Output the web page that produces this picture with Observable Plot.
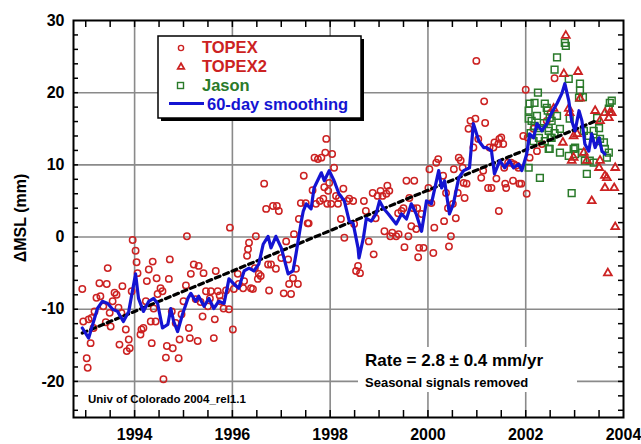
<!DOCTYPE html>
<html><head><meta charset="utf-8">
<script src="https://cdn.jsdelivr.net/npm/d3@7"></script>
<script src="https://cdn.jsdelivr.net/npm/@observablehq/plot@0.6"></script>
<style>body{margin:0;background:#fff}#chart{width:641px;height:444px}</style>
</head><body><div id="chart"></div>
<script>
// ---- TOPEX (10-day cycles) ----
const topexYear = [
1992.93,1992.95,1993.02,1993.04,1993.06,1993.10,1993.12,1993.16,1993.18,1993.22,
1993.28,1993.30,1993.36,1993.41,1993.43,1993.45,1993.49,1993.51,1993.55,1993.59,
1993.63,1993.67,1993.69,1993.73,1993.75,1993.82,1993.84,1993.88,1993.90,1993.94,
1993.96,1994.02,1994.04,1994.06,1994.12,1994.14,1994.18,1994.23,1994.25,1994.29,
1994.33,1994.35,1994.37,1994.39,1994.43,1994.45,1994.47,
1994.53,1994.57,1994.59,1994.64,1994.66,1994.70,1994.72,1994.76,1994.78,1994.84,
1994.90,1994.92,1994.96,1995.00,1995.05,1995.07,1995.11,1995.13,1995.15,1995.21,
1995.25,1995.29,1995.31,1995.35,1995.39,1995.41,1995.46,1995.50,1995.54,1995.56,
1995.62,1995.64,1995.66,1995.70,1995.74,1995.76,1995.82,1995.87,1995.93,1995.95,1996.01,
1996.03,1996.11,1996.13,1996.22,1996.24,1996.30,1996.32,1996.34,1996.38,1996.42,
1996.46,1996.48,1996.52,1996.54,1996.58,1996.65,1996.69,1996.73,1996.75,1996.79,
1996.83,1996.89,1996.91,1996.95,1997.00,1997.05,1997.10,1997.14,1997.16,1997.20,
1997.24,1997.26,1997.30,1997.34,1997.36,1997.40,1997.46,1997.50,1997.54,1997.56,
1997.64,1997.68,
1997.71,1997.75,1997.79,1997.82,1997.86,1997.88,1997.90,1997.92,1997.94,1997.96,
1997.98,1998.02,1998.04,1998.08,1998.12,1998.16,1998.18,1998.22,1998.27,1998.29,
1998.35,1998.39,1998.47,1998.49,1998.53,1998.57,1998.61,1998.69,1998.73,1998.79,
1998.87,1998.89,1998.93,1998.97,1999.03,1999.07,1999.11,1999.15,1999.17,1999.21,
1999.23,1999.27,
1999.35,1999.39,1999.40,1999.46,1999.50,1999.52,1999.56,1999.60,1999.62,1999.66,
1999.70,1999.72,1999.76,1999.78,1999.80,1999.82,1999.87,1999.91,2000.01,2000.03,
2000.07,2000.11,2000.13,2000.17,2000.21,2000.31,2000.33,2000.37,2000.41,2000.43,
2000.47,2000.51,2000.53,2000.57,2000.61,2000.63,2000.67,2000.71,2000.73,2000.75,
2000.79,2000.83,2000.87,
2000.93,2000.97,2000.99,2001.03,2001.09,2001.13,2001.15,2001.17,2001.23,2001.26,
2001.30,2001.34,2001.36,2001.40,2001.44,2001.45,2001.46,2001.50,2001.54,2001.56,
2001.58,2001.60,2001.64,2001.70,2001.74,2001.76,2001.81,2001.85,2001.87,2001.91,
2001.95,2002.00,2002.02,2002.04,2002.08,2002.16,2002.23,2002.33,2002.43,2002.51,2002.59
];
const topexMSL = [
-7.2,-11.7,-16.8,-18.1,-11.4,-14.7,-11.2,-12.6,-10.3,-8.4,
-6.4,-8.2,-9.6,-11.8,-6.5,-4.3,-10.5,-12.4,-8.9,-7.7,
-8.0,-9.8,-14.9,-10.5,-6.8,-12.8,-15.8,-14.2,-15.4,-7.5,
-0.4,-1.9,-3.5,-5.0,-13.5,-12.8,-12.6,-8.9,-6.1,-4.5,
-11.7,-14.7,-3.4,-9.9,-11.7,-5.7,-7.9,
-7.1,-7.5,-19.7,-16.7,-15.1,-5.8,-3.1,-10.3,-15.4,-11.9,
-16.8,-14.2,-10.7,-8.9,-6.7,0.1,-12.6,-14.0,-5.1,-3.8,
-8.6,-14.4,-4.0,-9.0,-11.0,-5.0,-7.5,-9.6,-8.5,-7.5,
-14.0,-11.4,-4.7,-7.5,-8.1,-8.9,-9.9,-7.4,-10.0,1.3,-12.8,
-7.2,-5.1,-6.5,-7.1,-6.1,-2.6,-1.7,-0.8,-7.1,-7.2,
-4.3,0.1,-5.8,-5.1,-5.4,7.4,3.9,-3.8,-7.4,-3.8,
4.3,-4.4,4.3,3.6,-2.9,-7.8,-0.6,-3.1,-6.5,-7.9,
-5.7,0.4,-4.4,-6.5,2.5,4.7,8.5,4.7,1.9,1.9,
6.5,11.0,
4.6,10.8,5.0,11.0,5.3,6.9,11.7,13.6,4.6,6.4,
7.5,4.6,11.5,9.6,5.7,4.6,5.4,2.5,6.7,-0.1,
5.0,5.3,5.0,1.8,-4.7,-4.0,-5.0,5.0,3.6,-0.6,
6.1,-2.4,2.6,5.7,6.4,5.7,0.8,6.0,7.1,6.4,
0.1,0.6,
0.1,3.3,0.4,3.6,4.0,-1.4,7.8,0.1,5.4,1.5,
4.0,7.8,1.1,4.0,-2.8,-1.5,3.2,-1.5,6.8,9.4,
4.7,-2.2,1.3,10.3,10.8,8.5,2.2,6.1,4.0,-1.3,
0.1,4.6,9.4,2.6,6.1,11.0,10.6,9.6,7.5,5.4,
7.4,15.0,16.1,
12.4,16.4,24.4,13.6,8.2,9.2,18.8,15.8,6.8,12.4,
6.8,12.4,13.1,8.1,12.9,3.6,13.6,13.8,12.9,9.6,
7.4,6.8,10.3,10.3,7.8,10.1,9.9,9.6,7.4,7.4,
14.0,20.4,6.0,13.8,11.0,15.0,11.9,12.9,16.1,17.2,22.0
];
// ---- TOPEX2 (tandem) ----
const topex2Year = [2002.57,2002.76,2002.78,2002.82,2002.88,2002.90,2002.94,2002.98,2002.98,2003.05,
2003.07,2003.11,2003.19,2003.25,2003.35,2003.42,2003.50,2003.52,2003.52,2003.62,
2003.62,2003.62,2003.66,2003.68,2003.70,2003.72,2003.76,2003.81,2003.83,2003.83];
const topex2MSL = [17.8,13.1,22.6,27.9,17.8,17.2,10.6,14.0,11.0,14.3,
22.9,19.2,11.7,10.6,5.0,17.5,9.6,16.1,10.6,17.2,
8.5,6.8,8.2,-5.0,16.5,17.2,17.2,6.8,9.6,1.4];
// ---- Jason ----
const jasonYear = [2002.06,2002.06,2002.06,2002.08,2002.10,2002.12,2002.16,2002.18,2002.18,2002.23,
2002.25,2002.27,2002.29,2002.29,2002.37,2002.39,2002.39,2002.43,2002.45,2002.47,
2002.47,2002.47,2002.49,2002.49,2002.51,2002.53,2002.53,2002.59,2002.59,2002.64,
2002.64,2002.70,2002.70,2002.80,2002.82,2002.88,2002.88,2002.90,2002.94,2002.98,
2003.01,2003.01,2003.09,2003.11,2003.11,2003.15,2003.17,2003.19,2003.21,2003.25,
2003.29,2003.31,2003.39,2003.39,2003.46,2003.46,2003.50,2003.52,2003.60,2003.62,
2003.66,2003.70,2003.70,2003.72,2003.76];
const jasonMSL = [9.6,17.5,16.4,18.5,14.4,16.1,13.3,18.6,15.4,16.8,
20.0,13.75,15.1,8.2,15.8,18.5,13.3,17.9,17.5,15.1,
14.7,12.2,16.5,12.2,13.75,16.1,13.75,23.2,14.4,24.9,
16.8,15.0,11.7,26.9,26.5,21.9,11.25,16.4,6.1,12.2,
12.4,11.5,19.3,21.25,20.3,11.7,19.4,14.7,10.6,8.75,
14.0,10.6,14.7,10.3,16.5,13.3,15.1,13.6,13.1,12.2,
11.0,17.8,11.7,18.6,18.9];
// ---- 60-day smoothing ----
const smoothYear = [1992.93,1993.06,1993.24,1993.34,1993.45,1993.55,1993.65,1993.77,1993.88,1994.02,
1994.08,1994.18,1994.29,1994.39,1994.47,1994.57,1994.68,1994.74,1994.80,1994.88,
1994.98,1995.09,1995.15,1995.25,1995.31,1995.42,1995.52,1995.62,1995.72,1995.83,
1995.93,1996.03,1996.13,1996.24,1996.34,1996.44,1996.54,1996.63,1996.73,1996.79,
1996.89,1997.00,1997.14,1997.24,1997.30,1997.41,1997.45,1997.51,1997.61,1997.67,
1997.82,1997.88,1997.98,1998.08,1998.18,1998.29,1998.39,1998.47,1998.57,1998.59,
1998.68,1998.74,1998.84,1998.94,1999.01,1999.09,1999.19,1999.35,1999.46,1999.56,
1999.66,1999.76,1999.87,1999.97,2000.07,2000.22,2000.28,2000.34,2000.44,2000.52,
2000.63,2000.73,2000.85,2000.93,2001.04,2001.14,2001.20,2001.30,2001.36,2001.47,
2001.57,2001.67,2001.75,2001.86,2001.92,2002.02,2002.08,2002.16,2002.23,2002.33,
2002.43,2002.53,2002.64,2002.74,2002.80,2002.88,2002.94,2003.01,2003.09,2003.15,
2003.21,2003.29,2003.35,2003.42,2003.50,2003.56,2003.62];
const smoothMSL = [-12.6,-14.0,-9.9,-8.9,-9.2,-10.0,-10.3,-11.7,-10.3,-5.1,
-8.5,-10.3,-8.9,-8.5,-9.2,-12.6,-12.1,-9.9,-11.7,-13.1,
-10.7,-8.5,-7.8,-8.9,-8.2,-9.6,-8.5,-9.9,-8.9,-9.2,
-5.8,-6.5,-7.1,-4.7,-4.3,-4.7,-3.75,-1.0,0.1,-1.5,
0.1,-1.5,-5.1,-4.7,-2.4,2.2,3.6,4.6,3.9,6.8,
8.9,7.8,9.2,7.8,6.0,5.0,2.2,1.9,-1.5,-2.9,
-0.1,2.6,2.2,3.2,5.0,4.0,3.2,1.8,3.2,2.5,
4.6,3.2,0.8,5.0,4.6,9.2,6.8,7.8,3.2,4.6,
8.2,9.2,9.6,15.7,13.3,12.4,12.4,11.9,8.75,10.6,
9.6,10.6,9.6,10.1,9.2,11.5,14.3,13.75,15.7,14.7,
15.7,17.2,18.5,19.9,21.25,18.9,16.1,14.7,17.5,16.1,
12.9,11.9,14.3,12.4,13.75,11.9,11.5];
// ---- linear trend (2.8 mm/yr) ----
const trendYear = [1992.93, 2003.40];
const trendMSL = [-13.3, 16.0];
// ---- ticks ----
const xLabelTicks = [1994,1996,1998,2000,2002,2004];
const xGridTicks = [1994,1996,1998,2000,2002];
const yLabelTicks = [-20,-10,0,10,20,30];
const yGridTicks = [-20,-10,0,10,20];
const xMinorTicks = [1993,1993.5,1994,1994.5,1995,1995.5,1996,1996.5,1997,1997.5,1998,1998.5,1999,1999.5,2000,2000.5,2001,2001.5,2002,2002.5,2003,2003.5];
const yMinorTicks = [-24,-22,-20,-18,-16,-14,-12,-10,-8,-6,-4,-2,0,2,4,6,8,10,12,14,16,18,20,22,24,26,28];

const zip = (xs, ys) => xs.slice(0, Math.min(xs.length, ys.length)).map((x, i) => ({x, y: ys[i]}));
const topex = zip(topexYear, topexMSL);
const topex2 = zip(topex2Year, topex2MSL);
const jason = zip(jasonYear, jasonMSL);
const smooth = zip(smoothYear, smoothMSL);
const trend = zip(trendYear, trendMSL);

const W = 641, H = 444, mL = 73, mR = 18, mT = 20, mB = 27;
const fw = W - mL - mR, fh = H - mT - mB;
const FONT = "'Liberation Sans', Arial, Helvetica, sans-serif";
const RED = "#cc2222", GREEN = "#2a7a2a", BLUE = "#1414d2";

const chart = Plot.plot({
  width: W, height: H,
  marginLeft: mL, marginRight: mR, marginTop: mT, marginBottom: mB,
  x: {domain: [1992.75, 2004]},
  y: {domain: [-25, 30]},
  style: {fontFamily: FONT, background: "white", color: "black"},
  marks: [
    Plot.ruleX(xGridTicks, {stroke: "#8a8a8a", strokeWidth: 1.6}),
    Plot.ruleY(yGridTicks, {stroke: "#8a8a8a", strokeWidth: 1.6}),
    Plot.tickX(xMinorTicks, {x: d => d, insetTop: fh - 7, stroke: "black", strokeWidth: 1.5}),
    Plot.tickX(xMinorTicks, {x: d => d, insetBottom: fh - 7, stroke: "black", strokeWidth: 1.5}),
    Plot.tickY(yMinorTicks, {y: d => d, insetRight: fw - 5, stroke: "black", strokeWidth: 1.5}),
    Plot.tickY(yMinorTicks, {y: d => d, insetLeft: fw - 5, stroke: "black", strokeWidth: 1.5}),
    Plot.dot(topex, {x: "x", y: "y", r: 3.2, stroke: RED, strokeWidth: 1.5, fill: "none"}),
    Plot.dot(jason, {x: "x", y: "y", symbol: "square", r: 3.8, stroke: GREEN, strokeWidth: 1.5, fill: "none"}),
    Plot.dot(topex2, {x: "x", y: "y", symbol: "triangle", r: 2.9, stroke: RED, strokeWidth: 1.8, fill: "none"}),
    Plot.line(trend, {x: "x", y: "y", stroke: "black", strokeWidth: 3.2, strokeDasharray: "5,4"}),
    Plot.line(smooth, {x: "x", y: "y", stroke: BLUE, strokeWidth: 3.2, strokeLinejoin: "round"}),
    Plot.frame({stroke: "black", strokeWidth: 2}),
    Plot.axisX(xLabelTicks, {tickSize: 0, tickPadding: 11, fontSize: 16, fontWeight: "bold", label: null, tickFormat: d => String(d)}),
    Plot.axisY(yLabelTicks, {tickSize: 0, tickPadding: 9, fontSize: 16, fontWeight: "bold", label: null, tickFormat: d => String(d)})
  ]
});
document.getElementById("chart").appendChild(chart);

// annotations & legend
const svg = d3.select(chart);
const ann = svg.append("g").attr("font-family", FONT).attr("font-weight", "bold").attr("text-anchor", "start");
ann.append("text").attr("transform", "translate(26,218) rotate(-90)").attr("text-anchor", "middle")
  .attr("font-size", 16).attr("fill", "black").text("ΔMSL (mm)");
ann.append("rect").attr("x", 358).attr("y", 347).attr("width", 219).attr("height", 45).attr("fill", "white");
ann.append("text").attr("x", 365).attr("y", 366).attr("font-size", 17).attr("fill", "black").text("Rate = 2.8 ± 0.4 mm/yr");
ann.append("text").attr("x", 365).attr("y", 387).attr("font-size", 13).attr("fill", "black").text("Seasonal signals removed");
ann.append("text").attr("x", 88).attr("y", 403).attr("font-size", 11.5).attr("fill", "black").text("Univ of Colorado 2004_rel1.1");
// legend
const lg = svg.append("g").attr("font-family", FONT).attr("font-weight", "bold").attr("text-anchor", "start");
lg.append("rect").attr("x", 161).attr("y", 39).attr("width", 203).attr("height", 82).attr("fill", "black");
lg.append("rect").attr("x", 158).attr("y", 36).attr("width", 203).attr("height", 82).attr("fill", "white").attr("stroke", "black").attr("stroke-width", 1.5);
lg.append("circle").attr("cx", 181).attr("cy", 48).attr("r", 2.6).attr("fill", "none").attr("stroke", RED).attr("stroke-width", 1.4);
lg.append("path").attr("d", d3.symbol(d3.symbolTriangle, 18)()).attr("transform", "translate(181,67)").attr("fill", "none").attr("stroke", RED).attr("stroke-width", 1.8);
lg.append("rect").attr("x", 177.5).attr("y", 82.5).attr("width", 6).attr("height", 6).attr("fill", "none").attr("stroke", GREEN).attr("stroke-width", 1.4);
lg.append("line").attr("x1", 169).attr("x2", 204).attr("y1", 103.5).attr("y2", 103.5).attr("stroke", BLUE).attr("stroke-width", 3);
const items = [["TOPEX", RED, 202, 53], ["TOPEX2", RED, 202, 72], ["Jason", GREEN, 202, 91], ["60-day smoothing", BLUE, 207, 110]];
items.forEach(([t, c, x, y]) => lg.append("text").attr("x", x).attr("y", y).attr("font-size", 16.5).attr("fill", c).text(t));
</script>
</body></html>
